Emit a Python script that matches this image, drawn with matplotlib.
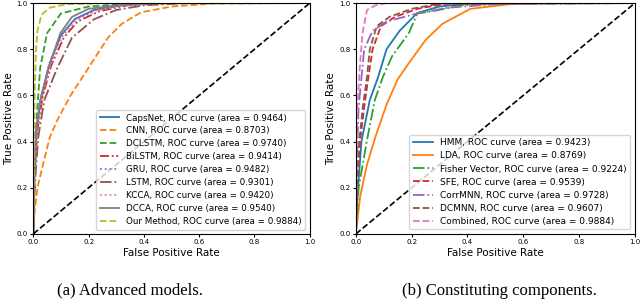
import matplotlib.pyplot as plt

# ROC curves: (fpr, tpr) pairs
# (a) advanced models
capsnet_fpr = [0, 0.004, 0.012, 0.03, 0.06, 0.1, 0.15, 0.22, 0.32, 0.45, 1.0]
capsnet_tpr = [0, 0.25, 0.45, 0.6, 0.74, 0.86, 0.93, 0.97, 0.99, 1.0, 1.0]
cnn_fpr = [0, 0.005, 0.015, 0.035, 0.06, 0.09, 0.135, 0.2, 0.27, 0.32, 0.39, 0.5, 0.65, 1.0]
cnn_tpr = [0, 0.1, 0.2, 0.3, 0.42, 0.5, 0.6, 0.72, 0.85, 0.91, 0.96, 0.985, 0.998, 1.0]
dclstm_fpr = [0, 0.005, 0.012, 0.025, 0.05, 0.1, 0.2, 0.35, 1.0]
dclstm_tpr = [0, 0.3, 0.5, 0.72, 0.87, 0.955, 0.985, 0.998, 1.0]
bilstm_fpr = [0, 0.005, 0.015, 0.035, 0.065, 0.11, 0.16, 0.24, 0.34, 0.48, 1.0]
bilstm_tpr = [0, 0.25, 0.45, 0.6, 0.73, 0.85, 0.92, 0.965, 0.99, 1.0, 1.0]
gru_fpr = [0, 0.004, 0.012, 0.03, 0.058, 0.1, 0.15, 0.22, 0.32, 0.45, 1.0]
gru_tpr = [0, 0.25, 0.45, 0.6, 0.74, 0.86, 0.93, 0.97, 0.99, 1.0, 1.0]
lstm_fpr = [0, 0.006, 0.018, 0.04, 0.087, 0.14, 0.22, 0.3, 0.4, 0.55, 1.0]
lstm_tpr = [0, 0.22, 0.42, 0.58, 0.72, 0.85, 0.93, 0.97, 0.99, 1.0, 1.0]
kcca_fpr = [0, 0.005, 0.014, 0.033, 0.062, 0.105, 0.155, 0.23, 0.33, 0.47, 1.0]
kcca_tpr = [0, 0.25, 0.45, 0.6, 0.73, 0.855, 0.925, 0.968, 0.99, 1.0, 1.0]
dcca_fpr = [0, 0.003, 0.01, 0.025, 0.055, 0.098, 0.14, 0.2, 0.3, 0.42, 1.0]
dcca_tpr = [0, 0.25, 0.45, 0.58, 0.72, 0.87, 0.94, 0.975, 0.99, 1.0, 1.0]
ours_fpr = [0, 0.002, 0.005, 0.01, 0.015, 0.03, 0.06, 0.12, 0.25, 1.0]
ours_tpr = [0, 0.3, 0.6, 0.8, 0.88, 0.95, 0.98, 0.995, 1.0, 1.0]

# (b) constituting components
hmm_fpr = [0, 0.005, 0.02, 0.05, 0.08, 0.11, 0.157, 0.22, 0.3, 0.4, 0.55, 1.0]
hmm_tpr = [0, 0.15, 0.4, 0.58, 0.68, 0.8, 0.88, 0.957, 0.985, 0.997, 1.0, 1.0]
lda_fpr = [0, 0.005, 0.015, 0.04, 0.07, 0.11, 0.15, 0.19, 0.25, 0.31, 0.41, 0.55, 0.7, 1.0]
lda_tpr = [0, 0.05, 0.16, 0.3, 0.42, 0.56, 0.67, 0.74, 0.84, 0.91, 0.975, 0.995, 1.0, 1.0]
fisher_fpr = [0, 0.01, 0.039, 0.068, 0.097, 0.13, 0.19, 0.22, 0.275, 0.38, 0.55, 1.0]
fisher_tpr = [0, 0.2, 0.4, 0.58, 0.68, 0.77, 0.87, 0.955, 0.965, 0.99, 1.0, 1.0]
sfe_fpr = [0, 0.004, 0.015, 0.03, 0.045, 0.06, 0.09, 0.14, 0.22, 0.32, 1.0]
sfe_tpr = [0, 0.2, 0.4, 0.55, 0.68, 0.8, 0.9, 0.94, 0.975, 0.997, 1.0]
corrmnn_fpr = [0, 0.003, 0.01, 0.03, 0.06, 0.11, 0.22, 0.33, 0.5, 1.0]
corrmnn_tpr = [0, 0.3, 0.55, 0.8, 0.88, 0.92, 0.955, 0.98, 0.995, 1.0]
dcmnn_fpr = [0, 0.003, 0.012, 0.025, 0.04, 0.05, 0.075, 0.12, 0.2, 0.3, 1.0]
dcmnn_tpr = [0, 0.2, 0.4, 0.55, 0.68, 0.8, 0.9, 0.94, 0.975, 0.998, 1.0]
comb_fpr = [0, 0.002, 0.006, 0.014, 0.024, 0.04, 0.07, 0.11, 1.0]
comb_tpr = [0, 0.3, 0.55, 0.72, 0.87, 0.97, 0.99, 1.0, 1.0]

left_names = ['CapsNet', 'CNN', 'DCLSTM', 'BiLSTM', 'GRU', 'LSTM', 'KCCA', 'DCCA', 'Our Method']
left_auc = ['0.9464', '0.8703', '0.9740', '0.9414', '0.9482', '0.9301', '0.9420', '0.9540', '0.9884']
right_names = ['HMM', 'LDA', 'Fisher Vector', 'SFE', 'CorrMNN', 'DCMNN', 'Combined']
right_auc = ['0.9423', '0.8769', '0.9224', '0.9539', '0.9728', '0.9607', '0.9884']

left_curves = [(capsnet_fpr, capsnet_tpr), (cnn_fpr, cnn_tpr), (dclstm_fpr, dclstm_tpr),
               (bilstm_fpr, bilstm_tpr), (gru_fpr, gru_tpr), (lstm_fpr, lstm_tpr),
               (kcca_fpr, kcca_tpr), (dcca_fpr, dcca_tpr), (ours_fpr, ours_tpr)]
right_curves = [(hmm_fpr, hmm_tpr), (lda_fpr, lda_tpr), (fisher_fpr, fisher_tpr),
                (sfe_fpr, sfe_tpr), (corrmnn_fpr, corrmnn_tpr), (dcmnn_fpr, dcmnn_tpr),
                (comb_fpr, comb_tpr)]

left_colors = ['tab:blue', 'tab:orange', 'tab:green', 'tab:red', 'tab:purple',
               'tab:brown', 'tab:pink', 'tab:gray', 'tab:olive']
left_styles = ['-', '--', '--', (0, (5, 1.5, 1, 1.5, 1, 1.5)), ':', '-.', ':', '-', '--']
right_colors = ['tab:blue', 'tab:orange', 'tab:green', 'tab:red', 'tab:purple',
                'tab:brown', 'tab:pink']
right_styles = ['-', '-', '-.', '--', '-.', '--', '--']

fig = plt.figure(figsize=(6.4, 3.07), dpi=100)
ax1 = fig.add_axes([0.052, 0.238, 0.432, 0.752])
ax2 = fig.add_axes([0.556, 0.238, 0.436, 0.752])


def draw(ax, curves, names, aucs, colors, styles, fs):
    for (f, t), n, a, c, s in zip(curves, names, aucs, colors, styles):
        ax.plot(f, t, color=c, linestyle=s, lw=1.3,
                label=f'{n}, ROC curve (area = {a})')
    ax.plot([0, 1], [0, 1], color='black', linestyle='--', lw=1.2)
    ax.set_xlim(0, 1)
    ax.set_ylim(0, 1)
    ax.set_xlabel('False Positive Rate', fontsize=7.5, labelpad=2)
    ax.set_ylabel('True Positive Rate', fontsize=7.5, labelpad=2)
    ax.tick_params(labelsize=5, length=2, pad=2)
    ax.legend(loc='lower right', fontsize=fs, handlelength=2.2,
              labelspacing=0.45, borderpad=0.4, framealpha=0.8)


draw(ax1, left_curves, left_names, left_auc, left_colors, left_styles, 6.3)
draw(ax2, right_curves, right_names, right_auc, right_colors, right_styles, 6.5)

fig.text(0.203, 0.04, '(a) Advanced models.', ha='center', fontsize=12,
         family='Liberation Serif')
fig.text(0.78, 0.04, '(b) Constituting components.', ha='center', fontsize=12,
         family='Liberation Serif')

fig.savefig('out.png', dpi=100)
